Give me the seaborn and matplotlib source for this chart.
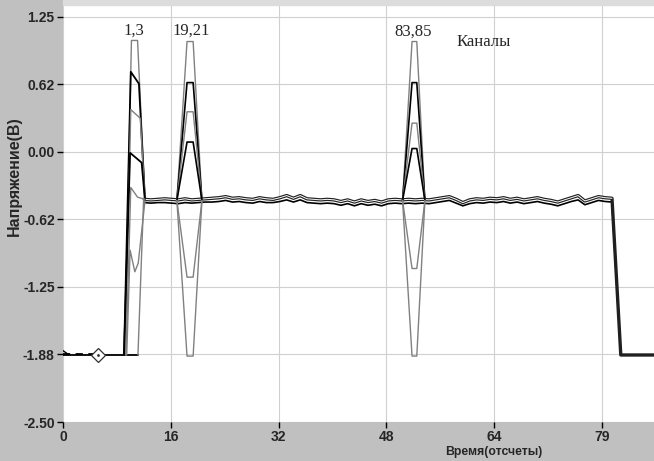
import numpy as np
import pandas as pd
import matplotlib
matplotlib.use("Agg")
import matplotlib.pyplot as plt
import seaborn as sns
from matplotlib.patches import Rectangle

# ------------------------------------------------------------
# Данные
# ------------------------------------------------------------
BASE = -1.88       # исходный уровень
PLATEAU = -0.45    # уровень "полки"

# начальный участок: все каналы на исходном уровне
base_x = [0.0, 11.06]

# всплеск каналов 1,3 (выход с исходного уровня)
spike1_x = [
    [9.1, 10.1, 11.0, 12.1],
    [9.0, 10.0, 11.2, 12.1],
    [9.2, 10.0, 11.4, 12.1],
    [9.0, 9.9, 11.6, 12.1],
    [9.3, 10.0, 11.0, 12.1],
    [9.4, 9.9, 10.6, 11.1, 12.1],
    [11.06, 11.9],
]
spike1_y = [
    [BASE, 1.03, 1.03, -0.44],
    [BASE, 0.74, 0.63, -0.45],
    [BASE, 0.39, 0.31, -0.45],
    [BASE, -0.01, -0.10, -0.45],
    [BASE, -0.33, -0.42, -0.44],
    [BASE, -0.91, -1.11, -1.03, -0.45],
    [BASE, -0.43],
]
spike1_col = ["#808080", "black", "#808080", "black", "#808080", "#808080", "#808080"]

# всплески каналов 19,21 и 83,85 (от полки вверх и вниз)
spike2_x = [16.8, 18.3, 19.2, 20.5]
spike2_peaks = [1.02, 0.64, 0.37, 0.09, -1.16, -1.89]
spike3_x = [50.1, 51.5, 52.2, 53.4]
spike3_peaks = [1.02, 0.64, 0.265, 0.03, -1.08, -1.89]
spike_col = ["#808080", "black", "#808080", "black", "#808080", "#808080"]

# полка (отсчеты 12..81)
t_body = list(range(12, 82))
body_upper = [-0.44, -0.445, -0.44, -0.435, -0.44, -0.445, -0.435, -0.445, -0.44, -0.435,
              -0.43, -0.425, -0.415, -0.43, -0.425, -0.435, -0.44, -0.425, -0.435, -0.44,
              -0.425, -0.405, -0.43, -0.405, -0.435, -0.44, -0.445, -0.44, -0.445, -0.46,
              -0.445, -0.465, -0.445, -0.46, -0.45, -0.465, -0.445, -0.44, -0.445, -0.44,
              -0.445, -0.44, -0.445, -0.435, -0.425, -0.415, -0.44, -0.47, -0.445, -0.435,
              -0.44, -0.43, -0.435, -0.425, -0.44, -0.43, -0.445, -0.435, -0.425, -0.44,
              -0.45, -0.465, -0.445, -0.425, -0.405, -0.455, -0.435, -0.415, -0.425, -0.43]
body_lower = [-0.47, -0.475, -0.47, -0.47, -0.475, -0.48, -0.47, -0.475, -0.47, -0.465,
              -0.465, -0.46, -0.45, -0.465, -0.46, -0.47, -0.475, -0.46, -0.47, -0.47,
              -0.46, -0.445, -0.465, -0.445, -0.47, -0.475, -0.48, -0.475, -0.48, -0.495,
              -0.48, -0.5, -0.48, -0.495, -0.485, -0.5, -0.48, -0.475, -0.48, -0.475,
              -0.48, -0.475, -0.48, -0.47, -0.46, -0.45, -0.475, -0.5, -0.48, -0.47,
              -0.475, -0.465, -0.47, -0.46, -0.475, -0.465, -0.48, -0.47, -0.46, -0.475,
              -0.485, -0.5, -0.48, -0.46, -0.445, -0.49, -0.47, -0.45, -0.46, -0.465]
# спад в конце записи
tail_x = [82.3, 87.5]
tail_y = [BASE, BASE]

# маркер и пунктир в начале
marker_x, marker_y = 5.2, BASE
dash_x = [0.0, 5.6]
dash_y = [-1.87, -1.87]
hook_x = [0.0, 0.8]
hook_y = [-1.84, -1.875]

# оси
x_ticks = [0, 15.9, 31.8, 47.7, 63.6, 79.5]
x_labels = ["0", "16", "32", "48", "64", "79"]
y_ticks = [1.25, 0.625, 0.0, -0.625, -1.25, -1.875, -2.5]
y_labels = ["1.25", "0.62", "0.00", "-0.62", "-1.25", "-1.88", "-2.50"]

labels_txt = ["1,3", "19,21", "83,85"]
labels_x = [10.5, 18.9, 51.6]
labels_y = [1.12, 1.12, 1.11]

# ------------------------------------------------------------
# Рисунок
# ------------------------------------------------------------
sns.set_theme(style="white")
plt.rcParams["font.family"] = ["Liberation Sans", "DejaVu Sans"]

fig = plt.figure(figsize=(6.54, 4.61), dpi=100, facecolor="#c0c0c0")
fig.patches.append(Rectangle((63 / 654, 456 / 461), 1, 5 / 461, transform=fig.transFigure,
                             color="#dcdcdc", zorder=0))
ax = fig.add_axes([63 / 654, 39 / 461, 591 / 654, 417 / 461])
ax.set_facecolor("white")


def line(xs, ys, color="black", lw=1.0, **kw):
    sns.lineplot(x=xs, y=ys, color=color, lw=lw, sort=False, estimator=None,
                 ax=ax, legend=False, **kw)


# исходный уровень
line(base_x, [BASE, BASE], "black", 1.3)
line(hook_x, hook_y, "black", 1.0)
line(dash_x, dash_y, "black", 1.3, linestyle=(0, (4, 3)))

# полка: двойная линия + нижний канал
line(t_body + tail_x, body_lower + tail_y, "black", 1.2)
line(t_body + tail_x, body_upper + tail_y, "#202020", 2.4)
line(t_body, body_upper, "white", 0.7)

# всплески
for xs, ys, c in zip(spike1_x, spike1_y, spike1_col):
    line(xs, ys, c, 1.3 if c == "black" else 1.0)
for peaks, xs in [(spike2_peaks, spike2_x), (spike3_peaks, spike3_x)]:
    for h, c in zip(peaks, spike_col):
        line(xs, [PLATEAU, h, h, PLATEAU], c, 1.2 if c == "black" else 1.0)

ax.plot(marker_x, marker_y, marker="D", ms=7.5, mfc="white", mec="#303030", mew=0.9)
ax.plot(marker_x, marker_y, marker=".", ms=2, color="#303030")

ax.set_xlim(0, 87.2)
ax.set_ylim(-2.5, 1.358)
ax.set_xticks(x_ticks)
ax.set_xticklabels(x_labels, fontweight="bold", fontsize=10)
ax.set_yticks(y_ticks)
ax.set_yticklabels(y_labels, fontweight="bold", fontsize=10)
ax.tick_params(direction="out", length=4, width=1, color="black", pad=2,
               bottom=True, left=True)
ax.grid(True, color="#d0d0d0", lw=0.8)
ax.set_axisbelow(True)
for s in ax.spines.values():
    s.set_visible(False)
ax.set_xlabel("")
ax.set_ylabel("")

for txt, x, y in zip(labels_txt, labels_x, labels_y):
    ax.text(x, y, txt, ha="center", va="center", fontsize=12,
            family=["Liberation Serif", "DejaVu Serif"])
ax.text(62.1, 1.02, "Каналы", ha="center", va="center", fontsize=12,
        family=["Liberation Serif", "DejaVu Serif"])

fig.text(494 / 654, 1 - 452 / 461, "Время(отсчеты)", ha="center", va="center",
         fontsize=8.8, fontweight="bold")
fig.text(14 / 654, 1 - 176 / 461, "Напряжение(В)", ha="center", va="center",
         rotation=90, fontsize=11.5, fontweight="bold")

fig.savefig("out.png", dpi=100, facecolor=fig.get_facecolor())
